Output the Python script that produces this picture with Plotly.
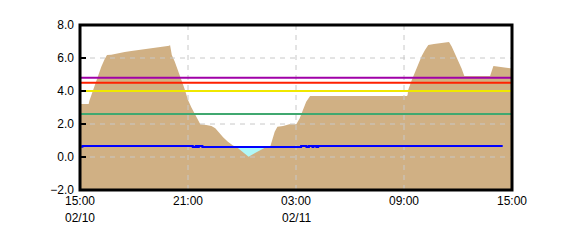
import pandas as pd
import plotly.graph_objects as go

START = pd.Timestamp("2023-02-10 15:00")
END = pd.Timestamp("2023-02-11 15:00")

# Tan area series: minutes after 15:00 on 02/10, value
tan_minutes = [0, 29, 31, 38, 49, 60, 71, 82, 90, 104, 127, 149, 171, 193, 216, 238, 260, 282, 298, 300, 306,
               316, 327, 338, 349, 360, 371, 382, 393, 401, 421, 438, 451, 460, 477, 493, 510, 527, 543, 562,
               582, 599, 616, 634, 640, 649, 658, 673, 677, 698, 721, 732, 743, 754, 767, 1090, 1092, 1094,
               1106, 1117, 1128, 1139, 1150, 1161, 1180, 1203, 1226, 1230, 1239, 1250, 1261, 1272, 1281, 1367,
               1378, 1411, 1428, 1440]
tan_values = [3.21, 3.21, 3.40, 3.76, 4.36, 4.97, 5.47, 5.92, 6.18, 6.20, 6.30, 6.36, 6.42, 6.48, 6.55, 6.61,
              6.69, 6.75, 6.75, 6.81, 6.18, 5.78, 5.27, 4.67, 4.10, 3.45, 3.01, 2.61, 2.24, 1.98, 1.94, 1.88,
              1.74, 1.53, 1.19, 0.93, 0.69, 0.53, 0.28, 0.02, 0.22, 0.38, 0.56, 0.62, 1.03, 1.53, 1.84, 1.84,
              1.88, 1.98, 1.98, 2.34, 2.85, 3.35, 3.70, 3.70, 3.76, 4.06, 4.67, 5.17, 5.68, 6.12, 6.48, 6.79,
              6.85, 6.91, 6.95, 6.97, 6.69, 6.28, 5.78, 5.37, 4.91, 4.91, 5.52, 5.45, 5.37, 5.37]

# Blue level series
level_minutes = [4, 8, 376, 386, 392, 396, 404, 408, 737, 755, 763, 775, 778, 788, 794, 839, 1409]
level_values = [0.62, 0.67, 0.61, 0.67, 0.61, 0.67, 0.67, 0.61, 0.67, 0.61, 0.67, 0.61, 0.67, 0.61, 0.67,
                0.67, 0.67]

# Threshold lines
threshold_names = ["green", "yellow", "red", "purple"]
threshold_values = [2.6, 4.0, 4.5, 4.8]
threshold_colors = ["#40a870", "#f0e800", "#ff2000", "#a000a8"]

# Axis ticks
x_tick_hours = [0, 6, 12, 18, 24]
x_tick_text = ["15:00", "21:00", "03:00", "09:00", "15:00"]
date_label_hours = [0, 12]
date_label_text = ["02/10", "02/11"]
y_min, y_max = -2.0, 8.0
y_ticks = [-2, 0, 2, 4, 6, 8]

tan_x = [START + pd.Timedelta(minutes=m) for m in tan_minutes]
lvl_x = [START + pd.Timedelta(minutes=m) for m in level_minutes]
x_tick_vals = [START + pd.Timedelta(hours=h) for h in x_tick_hours]
date_label_x = [START + pd.Timedelta(hours=h) for h in date_label_hours]

fig = go.Figure()
nohover = dict(hoverinfo="skip", showlegend=False)

# cyan water area (below tan)
fig.add_trace(go.Scatter(x=[lvl_x[0], lvl_x[-1]], y=[y_min, y_min], mode="lines",
                         line=dict(width=0), **nohover))
fig.add_trace(go.Scatter(x=lvl_x, y=level_values, mode="lines", line=dict(width=0, shape="hv"),
                         fill="tonexty", fillcolor="#b0f8f8", **nohover))
# tan area
fig.add_trace(go.Scatter(x=[tan_x[0], tan_x[-1]], y=[y_min, y_min], mode="lines",
                         line=dict(width=0), **nohover))
fig.add_trace(go.Scatter(x=tan_x, y=tan_values, mode="lines", line=dict(width=0),
                         fill="tonexty", fillcolor="#d0b084", **nohover))

# grid lines above the fill
grid_style = dict(color="#c8c8c8", width=1, dash="5px,5px")
for xv in x_tick_vals[1:-1]:
    fig.add_trace(go.Scatter(x=[xv, xv], y=[y_min, y_max], mode="lines", line=grid_style, **nohover))
for yv in y_ticks[1:-1]:
    fig.add_trace(go.Scatter(x=[START, END], y=[yv, yv], mode="lines", line=grid_style, **nohover))

# thresholds
for name, v, c in zip(threshold_names, threshold_values, threshold_colors):
    fig.add_trace(go.Scatter(x=[START, END], y=[v, v], mode="lines", name=name,
                             line=dict(color=c, width=2), hoverinfo="skip", showlegend=False))

# level line
fig.add_trace(go.Scatter(x=lvl_x, y=level_values, mode="lines", line=dict(color="#0000ff", width=2, shape="hv"),
                         showlegend=False))

font = dict(family="Liberation Sans, Arial, sans-serif", size=12, color="#000000")
annotations = [dict(x=xv, y=0, xref="x", yref="paper", text=t, showarrow=False, xanchor="center",
                    yanchor="top", yshift=-19, font=font)
               for xv, t in zip(date_label_x, date_label_text)]

fig.update_layout(
    width=570, height=250,
    margin=dict(l=80, r=58, t=25, b=60),
    paper_bgcolor="white", plot_bgcolor="white",
    font=font,
    showlegend=False,
    xaxis=dict(type="date", range=[START, END], showgrid=False, zeroline=False, showline=False,
               tickvals=x_tick_vals, ticktext=x_tick_text, ticks="", tickfont=font, ticklabelstandoff=2),
    yaxis=dict(range=[y_min, y_max], tickvals=y_ticks, tickformat=".1f", showgrid=False, zeroline=False,
               showline=False, ticks="inside", ticklen=6, tickwidth=2, tickcolor="#000000", tickfont=font,
               ticklabelstandoff=5),
    annotations=annotations,
    shapes=[dict(type="rect", xref="paper", yref="paper", x0=0, x1=1, y0=0, y1=1,
                 line=dict(color="#000000", width=3), layer="above")],
)

fig.write_html("out.html")
